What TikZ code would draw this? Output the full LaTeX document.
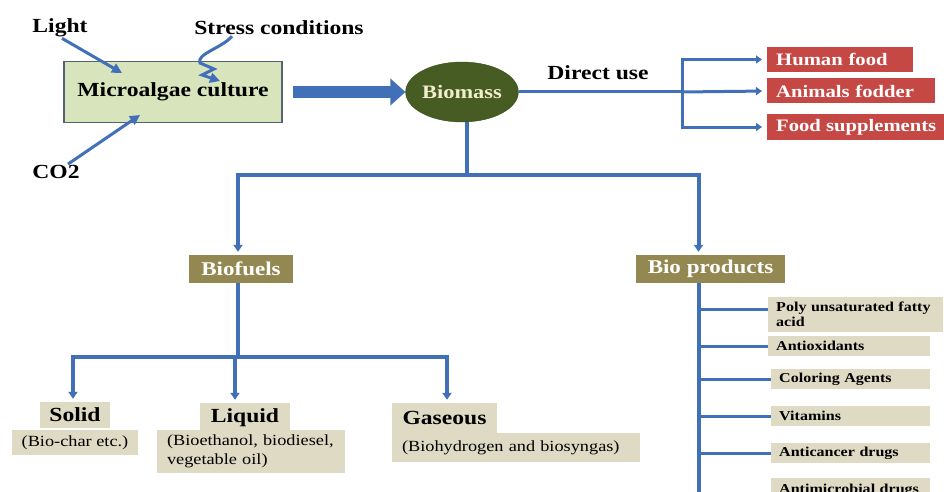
\documentclass[tikz,border=0pt]{standalone}
\usepackage{fontspec}
\setmainfont{Liberation Serif}[FakeStretch=1.18]
\usetikzlibrary{arrows.meta,shapes.geometric}

\definecolor{flowblue}{RGB}{66,112,184}
\definecolor{culturegreen}{RGB}{216,229,188}
\definecolor{cultureedge}{RGB}{84,98,118}
\definecolor{biomassgreen}{RGB}{70,92,34}
\definecolor{foodred}{RGB}{198,72,68}
\definecolor{fuelolive}{RGB}{148,136,82}
\definecolor{tanbox}{RGB}{222,218,196}

\begin{document}
\begin{tikzpicture}[x=1pt, y=-1pt,
    lbl/.style={font=\bfseries\fontsize{20}{22}\selectfont, inner sep=1pt},
    culturebox/.style={draw=cultureedge, line width=1.5pt, fill=culturegreen,
        minimum width=218pt, minimum height=61pt,
        font=\bfseries\fontsize{20}{22}\selectfont},
    redbox/.style={fill=foodred, text=white, anchor=west, align=left,
        inner xsep=9pt, inner ysep=0pt, minimum height=25pt,
        font=\bfseries\fontsize{17.5}{19}\selectfont},
    fuelbox/.style={fill=fuelolive, text=white, inner sep=0pt,
        font=\bfseries\fontsize{19.5}{21}\selectfont},
    tan/.style={fill=tanbox, inner sep=0pt, font=\bfseries\fontsize{20}{22}\selectfont},
    tansub/.style={fill=tanbox, inner xsep=10pt, inner ysep=0pt, align=left,
        font=\fontsize{15.5}{19}\selectfont},
    tag/.style={fill=tanbox, anchor=west, align=left, inner xsep=8pt,
        inner ysep=2pt, minimum height=20pt,
        font=\bfseries\fontsize{13.6}{14.5}\selectfont},
    flow/.style={draw=flowblue, line width=4pt},
    flowarrow/.style={flow, -{Triangle[length=7pt,width=9pt]}, shorten >=3pt},
    feed/.style={draw=flowblue, line width=3pt, -{Triangle[length=10pt,width=10pt]}},
    branch/.style={draw=flowblue, line width=3pt, -{Triangle[length=6pt,width=8pt]}, shorten >=5pt},
    twig/.style={draw=flowblue, line width=3pt},
    bigarrow/.style={draw=flowblue, line width=12pt, -{Triangle[length=15pt,width=26pt]}}]

    % Page size of the picture
    \useasboundingbox (0,0) rectangle (944,492);
    \clip (0,0) rectangle (944,492);

    % Culture box and what goes into it
    \node[culturebox] (culture) at (173,92) {Microalgae culture};
    \node[lbl] (light) at (60,28) {Light};
    \node[lbl] (stress) at (279,28) {Stress conditions};
    \node[lbl] (cotwo) at (56,172) {CO2};
    \coordinate (lighttip) at (122,73);
    \coordinate (cotip) at (140,115);
    \draw[feed] ([xshift=2pt]light.south) -- (lighttip);
    \draw[feed] ([xshift=12pt]cotwo.north) -- (cotip);
    \draw[feed] ([xshift=-47pt]stress.south) .. controls (222,48) and (196,54) .. (200,63)
        -- (214,69) -- (202,75) -- (220,81);

    % Biomass
    \node[ellipse, fill=biomassgreen, draw=biomassgreen!80!black, inner sep=0pt,
        minimum width=97pt, minimum height=60pt, text={rgb,255:red,240;green,238;blue,205},
        font=\bfseries\fontsize{19}{21}\selectfont] (biomass) at (462,92) {Biomass};
    \draw[bigarrow] ([xshift=10pt]culture.east) -- (biomass.west);

    % Direct use
    \node[lbl] (direct) at (598,73) {Direct use};
    \coordinate (fork) at (682,92);
    \draw[twig] (biomass.east) -- (fork);
    \node[redbox, text width=128pt] (human) at (767,59.5) {Human food};
    \node[redbox, text width=150pt] (fodder) at (767,91) {Animals fodder};
    \node[redbox] (suppl) at (767,127) {Food supplements};
    \draw[branch] (fork) |- (human.west);
    \draw[branch] (fork) -- (fodder.west);
    \draw[branch] (fork) |- (suppl.west);

    % Biofuels and bio products
    \node[fuelbox, minimum width=104pt, minimum height=28pt] (fuels) at (241,269) {Biofuels};
    \node[fuelbox, minimum width=149pt, minimum height=28pt] (prods) at (710.5,269) {Bio products};
    \coordinate (split) at (467,175);
    \draw[flow] (split |- biomass.south) -- (split);
    \draw[flowarrow] (split) -| ([xshift=-3pt]fuels.north);
    \draw[flowarrow] (split) -| ([xshift=-12pt]prods.north);

    % Kinds of biofuel
    \node[tansub, minimum width=126pt, minimum height=25pt] (solidsub) at (75,442.5) {(Bio-char etc.)};
    \node[tan, minimum width=70pt, minimum height=26pt] (solid) at (75,415) {Solid};
    \node[tansub, text width=168pt, minimum height=43pt] (liquidsub) at (251,451.5)
        {\mbox{(Bioethanol, biodiesel,}\\vegetable oil)};
    \node[tan, minimum width=90pt, minimum height=29pt] (liquid) at (245,417.5) {Liquid};
    \node[tansub, text width=228pt, minimum height=29pt] (gassub) at (516,447.5)
        {(Biohydrogen and biosyngas)};
    \node[tan, minimum width=105pt, minimum height=30pt] (gas) at (444.5,418) {Gaseous};
    \coordinate (fsplit) at (238,357);
    \draw[flow] ([xshift=-3pt]fuels.south) -- (fsplit);
    \draw[flowarrow] (fsplit) -| ([xshift=-2pt]solid.north);
    \draw[flowarrow] (fsplit) -| ([xshift=-10pt]liquid.north);
    \draw[flowarrow] (fsplit) -| ([xshift=2.5pt]gas.north);

    % Bio products list
    \node[tag, text width=159pt, minimum height=35pt] (pufa) at (768,314.5)
        {\mbox{Poly unsaturated fatty}\\acid};
    \node[tag, text width=146pt] (antiox) at (768,346) {Antioxidants};
    \node[tag, text width=143pt] (color) at (771,379) {Coloring Agents};
    \node[tag, text width=143pt] (vitamin) at (771,416) {Vitamins};
    \node[tag, text width=143pt] (cancer) at (771,453) {Anticancer drugs};
    \node[tag, text width=143pt, minimum height=24pt] (microbe) at (771,490) {Antimicrobial drugs};
    \coordinate (pend) at (699,492);
    \draw[flow] ([xshift=-11.5pt]prods.south) -- (pend);
    \draw[twig] (pend |- pufa.west) ++(0,-5.5) -- ([yshift=5.5pt]pufa.west);
    \draw[twig] (pend |- antiox.west) -- (antiox.west);
    \draw[twig] (pend |- color.west) -- (color.west);
    \draw[twig] (pend |- vitamin.west) -- (vitamin.west);
    \draw[twig] (pend |- cancer.west) -- (cancer.west);

\end{tikzpicture}
\end{document}
